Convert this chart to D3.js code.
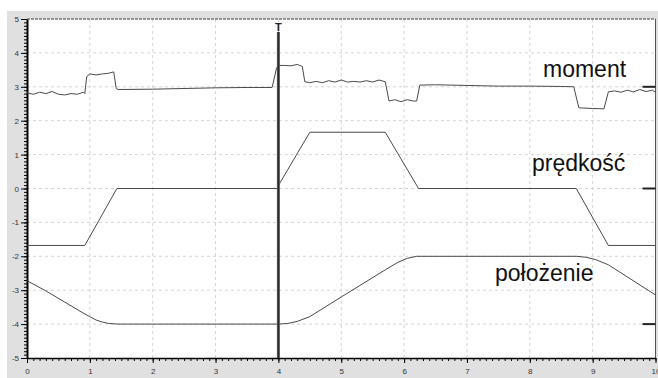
<!DOCTYPE html>
<html>
<head>
<meta charset="utf-8">
<script src="https://cdn.jsdelivr.net/npm/d3@7"></script>
<style>
  body { margin: 0; background: #fff; }
  svg { display: block; font-family: "Liberation Sans", Arial, sans-serif; }
  .axis text { font-size: 8px; fill: #333; }
  .axis path, .axis line { stroke: #000; }
  .grid line { stroke: #d4d4d4; stroke-dasharray: 3,3; }
  .trace { fill: none; stroke: #4a4a4a; stroke-width: 1; }
  .label { font-size: 23px; fill: #111; }
</style>
</head>
<body>
<svg id="chart" width="658" height="378"></svg>
<script>
// ── Data ─────────────────────────────────────────────────────────────
var xTicks = [0, 1, 2, 3, 4, 5, 6, 7, 8, 9, 10];
var yTicks = [-5, -4, -3, -2, -1, 0, 1, 2, 3, 4, 5];

var momentT = [0, 0.1, 0.2, 0.3, 0.4, 0.5, 0.6, 0.7, 0.8, 0.9, 0.92, 0.95, 1.0, 1.1, 1.2, 1.3, 1.38,
  1.42, 1.45, 2.0, 3.0, 3.5, 3.9, 3.97, 4.0, 4.1, 4.2, 4.3, 4.38, 4.42, 4.5, 4.6, 4.7, 4.8, 4.9,
  5.0, 5.1, 5.2, 5.3, 5.4, 5.5, 5.6, 5.7, 5.76, 5.85, 5.95, 6.05, 6.15, 6.2, 6.25, 6.5, 7.0, 7.5,
  8.0, 8.5, 8.7, 8.78, 9.0, 9.18, 9.25, 9.35, 9.45, 9.55, 9.65, 9.75, 9.85, 9.95, 10];
var momentV = [2.82, 2.78, 2.84, 2.8, 2.86, 2.78, 2.76, 2.8, 2.78, 2.84, 2.8, 3.3, 3.38, 3.35, 3.38, 3.4, 3.44,
  2.95, 2.92, 2.93, 2.97, 2.98, 2.98, 3.55, 3.63, 3.63, 3.62, 3.66, 3.6, 3.15, 3.12, 3.16, 3.12, 3.18, 3.14,
  3.2, 3.14, 3.16, 3.14, 3.18, 3.14, 3.2, 3.15, 2.58, 2.62, 2.56, 2.62, 2.58, 2.58, 3.05, 3.06, 3.04, 3.02,
  3.02, 3.01, 3.0, 2.38, 2.36, 2.35, 2.85, 2.88, 2.84, 2.9, 2.85, 2.92, 2.86, 2.9, 2.84];

var speedT = [0, 0.92, 1.43, 3.98, 4.02, 4.5, 5.7, 6.23, 8.74, 9.25, 10];
var speedV = [-1.68, -1.68, 0, 0, 0.15, 1.66, 1.66, 0, 0, -1.68, -1.68];

var posT = [0, 0.3, 0.6, 0.9, 1.0, 1.1, 1.2, 1.3, 1.45, 4.0, 4.15, 4.3, 4.5, 5.0, 5.7, 5.9, 6.05, 6.2,
  8.75, 8.9, 9.05, 9.25, 10];
var posV = [-2.72, -3.02, -3.35, -3.68, -3.78, -3.88, -3.94, -3.98, -4.0, -4.0, -3.98, -3.92, -3.78, -3.2,
  -2.4, -2.18, -2.06, -2.0, -2.0, -2.03, -2.1, -2.25, -3.14];

var traceNames = ["moment", "prędkość", "położenie"];
var traceOffsets = [3, 0, -4];   // reference markers on the right edge
var cursorT = 4;

// ── Layout ───────────────────────────────────────────────────────────
var svg = d3.select("#chart");
var L = 27, R = 655.5, T = 19, B = 358;

var x = d3.scaleLinear().domain([0, 10]).range([L, R]);
var y = d3.scaleLinear().domain([-5, 5]).range([B, T]);

// grey frame + white plot area
svg.append("rect").attr("x", 7).attr("y", 11).attr("width", 651).attr("height", 367).attr("fill", "#e0e0e0");
svg.append("rect").attr("x", L).attr("y", T).attr("width", R - L).attr("height", B - T).attr("fill", "#fff");

// ── Grid ─────────────────────────────────────────────────────────────
var grid = svg.append("g").attr("class", "grid");
grid.selectAll(".gx").data(xTicks.slice(1, -1)).enter().append("line")
  .attr("x1", function (d) { return x(d); }).attr("x2", function (d) { return x(d); })
  .attr("y1", T).attr("y2", B);
grid.selectAll(".gy").data(yTicks.slice(1, -1)).enter().append("line")
  .attr("x1", L).attr("x2", R)
  .attr("y1", function (d) { return y(d); }).attr("y2", function (d) { return y(d); });

// plot border (top dashed, right solid)
svg.append("line").attr("x1", L).attr("x2", R).attr("y1", T).attr("y2", T)
  .attr("stroke", "#777").attr("stroke-width", 1.5).attr("stroke-dasharray", "3,1");
svg.append("line").attr("x1", R).attr("x2", R).attr("y1", T).attr("y2", B)
  .attr("stroke", "#555").attr("stroke-width", 1);

// ── Axes ─────────────────────────────────────────────────────────────
var minorX = d3.range(0, 100.5, 1).map(function (d) { return d / 10; });
var minorY = d3.range(-50, 50.5, 1).map(function (d) { return d / 10; });

svg.append("g").attr("class", "axis").attr("transform", "translate(0," + B + ")")
  .call(d3.axisBottom(x).tickValues(minorX).tickSize(3).tickFormat(""))
  .call(function (g) { g.select(".domain").remove(); });
svg.append("g").attr("class", "axis").attr("transform", "translate(0," + B + ")")
  .call(d3.axisBottom(x).tickValues(xTicks).tickSize(5).tickPadding(5).tickSizeOuter(0).tickFormat(d3.format("d")))
  .call(function (g) { g.select(".domain").attr("stroke-width", 1.5); });

svg.append("g").attr("class", "axis").attr("transform", "translate(" + L + ",0)")
  .call(d3.axisLeft(y).tickValues(minorY).tickSize(3).tickFormat(""))
  .call(function (g) { g.select(".domain").remove(); });
svg.append("g").attr("class", "axis").attr("transform", "translate(" + L + ",0)")
  .call(d3.axisLeft(y).tickValues(yTicks).tickSize(6).tickPadding(2).tickSizeOuter(0).tickFormat(d3.format("d")))
  .call(function (g) {
    g.select(".domain").attr("stroke-width", 2);
    g.selectAll("text").text(function (d) { return d < 0 ? "-" + Math.abs(d) : d; });
  });

// ── Traces ───────────────────────────────────────────────────────────
var line = d3.line().x(function (d) { return x(d[0]); }).y(function (d) { return y(d[1]); });
[[momentT, momentV], [speedT, speedV], [posT, posV]].forEach(function (s) {
  svg.append("path").attr("class", "trace").attr("d", line(d3.zip(s[0], s[1])));
});

// reference markers on the right edge
svg.selectAll(".ref").data(traceOffsets).enter().append("line")
  .attr("x1", R - 13).attr("x2", R)
  .attr("y1", function (d) { return y(d); }).attr("y2", function (d) { return y(d); })
  .attr("stroke", "#222").attr("stroke-width", 2);

// ── Cursor ───────────────────────────────────────────────────────────
svg.append("line").attr("x1", x(cursorT)).attr("x2", x(cursorT)).attr("y1", T + 13).attr("y2", B)
  .attr("stroke", "#555").attr("stroke-width", 3);
svg.append("line").attr("x1", x(cursorT)).attr("x2", x(cursorT)).attr("y1", T + 13).attr("y2", B)
  .attr("stroke", "#222").attr("stroke-width", 1);
svg.append("text").attr("x", x(cursorT)).attr("y", T + 12).attr("text-anchor", "middle")
  .attr("font-size", 11).attr("font-weight", "bold").attr("fill", "#222").text("T");

// ── Labels ───────────────────────────────────────────────────────────
var labelPos = [[543, 77], [532, 171], [495, 281]];
svg.selectAll(".label").data(traceNames).enter().append("text")
  .attr("class", "label")
  .attr("x", function (d, i) { return labelPos[i][0]; })
  .attr("y", function (d, i) { return labelPos[i][1]; })
  .text(function (d) { return d; });
</script>
</body>
</html>
